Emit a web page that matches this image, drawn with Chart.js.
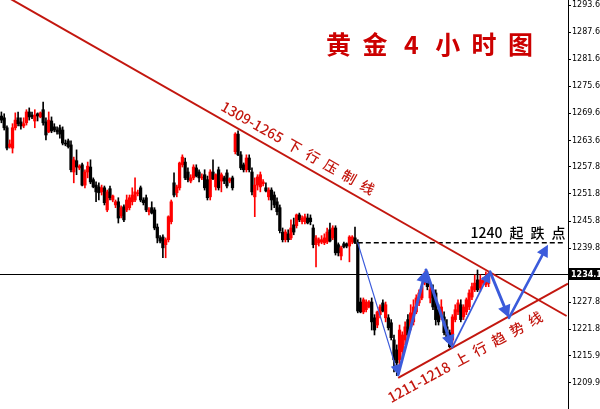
<!DOCTYPE html>
<html>
<head>
<meta charset="utf-8">
<script src="https://cdn.jsdelivr.net/npm/chart.js@4.4.1/dist/chart.umd.min.js"></script>
<style>
html, body { margin: 0; padding: 0; background: #fff; }
#wrap { width: 600px; height: 409px; position: relative; }
</style>
</head>
<body>
<div id="wrap"><canvas id="goldChart"></canvas></div>
<script>
// 4小时K线 (开 / 高 / 低 / 收)
const opens = [
  1269.1,1268.7,1266.5,1262.3,1262.0,1266.5,1268.7,1267.8,1266.9,1267.6,
  1270.0,1269.3,1268.0,1269.6,1268.9,1270.5,1267.8,1265.6,1268.0,1266.7,
  1266.0,1266.5,1266.0,1263.1,1263.6,1262.7,1256.7,1259.2,1257.6,1258.3,
  1253.8,1256.7,1257.8,1255.0,1253.8,
  1253.4,1252.3,1253.2,1248.3,1253.0,1250.5,1249.4,1250.1,1247.0,1249.0,
  1248.3,1248.8,1250.1,1250.5,1251.9,1253.2,1250.5,1251.0,1247.9,1248.8,
  1248.3,1244.5,1242.1,1242.3,1240.6,1241.7,1245.7,1254.3,1252.1,1253.2,
  1258.3,1258.9,1256.7,1254.7,1255.4,
  1257.6,1256.7,1255.4,1256.1,1255.0,1251.2,1256.7,1253.4,1257.2,1254.7,
  1255.4,1256.5,1254.7,1255.4,1261.2,1265.1,1260.5,1258.3,1257.2,1259.8,
  1256.7,1251.2,1253.8,1253.4,1254.1,1253.2,1251.2,1252.7,1251.6,1250.1,
  1248.8,1243.4,1241.7,1243.0,1242.1,1245.0,
  1244.8,1247.2,1245.7,1245.7,1246.5,1246.5,1244.3,1240.6,1241.0,1241.2,
  1241.0,1241.2,1243.9,1242.1,1244.3,1240.6,1238.1,1240.8,1240.8,1240.3,
  1241.2,1242.1,1241.0,1227.9,1225.7,1226.2,1226.8,1227.9,1224.4,1222.8,
  1225.1,1227.7,1224.4,1224.4,1223.3,
  1219.5,1217.3,1215.1,1216.9,1219.5,1224.0,1222.4,1223.5,1225.7,1227.7,
  1228.8,1232.1,1233.5,1228.8,1230.6,1229.9,1226.2,1224.6,1224.6,1222.4,
  1221.1,1219.5,1224.0,1225.7,1227.3,1224.6,1225.7,1226.8,1229.0,1230.6,
  1232.8,1231.0,1232.1,1231.7,1232.0
];
const highs = [
  1270.0,1269.6,1266.9,1263.8,1267.4,1269.8,1270.0,1268.7,1268.7,1270.5,
  1270.9,1270.0,1270.5,1269.8,1270.0,1272.2,1268.7,1270.0,1268.9,1267.4,
  1266.7,1267.1,1266.7,1263.8,1264.0,1263.6,1260.0,1261.6,1258.3,1258.7,
  1257.2,1258.9,1259.4,1255.4,1254.5,
  1254.3,1253.8,1253.6,1252.7,1253.6,1251.6,1250.5,1251.0,1249.2,1249.4,
  1251.6,1251.6,1253.2,1255.4,1252.7,1253.6,1251.0,1251.6,1248.8,1250.1,
  1248.8,1245.2,1242.6,1242.8,1242.1,1247.0,1250.5,1256.5,1253.8,1258.9,
  1260.5,1259.8,1257.6,1256.1,1258.3,
  1258.3,1257.2,1256.3,1257.2,1255.8,1257.2,1259.4,1256.3,1257.8,1256.5,
  1255.8,1257.2,1255.4,1255.8,1265.4,1265.8,1261.2,1258.7,1260.5,1260.5,
  1257.6,1255.4,1256.1,1256.7,1255.0,1254.3,1253.2,1253.2,1252.3,1251.0,
  1249.4,1244.3,1243.9,1243.9,1246.1,1246.5,
  1247.4,1247.6,1247.0,1247.4,1247.4,1247.2,1245.0,1242.6,1242.1,1242.6,
  1243.0,1244.3,1245.4,1244.8,1244.8,1241.0,1240.3,1241.2,1241.0,1242.6,
  1242.6,1244.5,1241.7,1228.8,1228.8,1228.4,1228.2,1228.8,1225.1,1225.9,
  1227.3,1228.4,1227.9,1225.1,1224.0,
  1220.6,1218.4,1222.8,1221.3,1223.5,1225.1,1227.3,1228.4,1229.5,1230.6,
  1232.1,1234.6,1234.6,1232.4,1231.7,1230.6,1227.3,1228.4,1225.7,1224.0,
  1221.7,1225.1,1227.3,1228.4,1228.4,1227.3,1228.8,1230.6,1232.1,1233.9,
  1235.0,1233.9,1233.3,1234.6,1234.6
];
const lows = [
  1267.6,1266.0,1261.6,1262.0,1260.9,1266.0,1266.9,1266.2,1266.5,1267.1,
  1268.2,1268.5,1266.5,1268.0,1268.7,1267.1,1263.8,1265.4,1265.4,1265.6,
  1265.1,1264.2,1262.7,1262.5,1262.0,1256.7,1254.3,1256.1,1257.2,1253.6,
  1253.2,1255.4,1254.1,1253.2,1250.1,
  1250.5,1251.6,1249.4,1247.9,1250.5,1250.1,1248.8,1245.4,1246.5,1245.7,
  1247.9,1248.3,1249.4,1250.1,1251.4,1250.1,1249.4,1247.9,1247.2,1247.4,
  1243.9,1241.0,1241.0,1237.7,1237.7,1241.2,1245.2,1251.2,1251.2,1252.7,
  1257.8,1255.0,1254.5,1254.3,1255.0,
  1255.6,1254.5,1255.0,1252.7,1250.5,1250.5,1255.0,1252.7,1252.7,1252.3,
  1254.1,1253.2,1254.3,1252.7,1260.7,1260.3,1257.2,1256.7,1256.7,1256.7,
  1251.6,1246.8,1252.7,1252.3,1253.6,1252.3,1250.5,1248.3,1248.8,1247.2,
  1243.2,1241.2,1241.2,1241.2,1241.7,1242.8,
  1244.3,1245.7,1245.2,1245.2,1245.2,1245.0,1239.9,1235.7,1240.3,1240.8,
  1240.6,1240.8,1241.2,1241.7,1238.3,1238.1,1237.2,1239.9,1239.9,1236.8,
  1240.8,1240.8,1225.5,1225.5,1225.3,1225.7,1226.6,1221.7,1220.6,1222.2,
  1224.4,1225.7,1223.5,1221.7,1219.5,
  1212.4,1211.6,1212.9,1215.5,1218.4,1220.0,1221.7,1222.8,1225.3,1227.1,
  1228.4,1231.7,1230.6,1227.7,1226.2,1222.8,1222.8,1224.0,1220.6,1219.1,
  1217.8,1218.4,1223.5,1225.1,1223.5,1224.0,1225.1,1226.2,1228.4,1230.2,
  1230.2,1230.2,1231.7,1231.3,1231.3
];
const closes = [
  1268.2,1266.5,1262.0,1262.9,1266.5,1268.2,1267.4,1266.9,1267.4,1270.0,
  1268.9,1268.9,1269.3,1269.1,1269.8,1267.6,1264.9,1268.2,1265.8,1266.0,
  1265.6,1265.1,1263.1,1262.9,1262.3,1257.2,1259.4,1257.8,1258.0,1253.8,
  1256.7,1258.0,1254.5,1253.4,1252.3,
  1252.1,1253.2,1249.9,1252.3,1251.0,1251.4,1250.1,1246.5,1248.8,1246.1,
  1250.5,1251.0,1251.6,1252.3,1252.1,1250.5,1249.9,1248.3,1248.3,1247.6,
  1244.3,1242.1,1241.4,1239.9,1241.7,1246.8,1250.1,1251.6,1253.4,1258.7,
  1260.0,1255.4,1255.0,1255.4,1257.8,
  1255.8,1255.4,1255.6,1253.2,1251.0,1256.7,1255.2,1256.1,1253.2,1256.1,
  1254.7,1253.6,1255.2,1253.2,1265.1,1260.5,1257.6,1257.2,1259.8,1257.2,
  1252.3,1253.8,1255.6,1256.1,1254.5,1252.5,1252.7,1250.5,1249.4,1247.9,
  1243.7,1241.7,1243.4,1241.7,1244.3,1243.4,
  1247.2,1246.1,1246.5,1246.8,1245.4,1245.7,1240.6,1242.1,1241.7,1241.7,
  1242.1,1243.4,1241.4,1244.3,1238.8,1238.8,1239.9,1240.1,1240.3,1242.3,
  1242.3,1241.0,1225.9,1225.7,1228.4,1227.9,1227.9,1223.5,1221.7,1225.7,
  1226.8,1225.9,1227.3,1222.2,1220.0,
  1215.1,1214.4,1221.7,1220.6,1222.4,1220.6,1225.5,1226.8,1228.8,1229.9,
  1231.3,1234.1,1231.3,1230.6,1226.8,1224.0,1223.5,1226.8,1221.1,1219.5,
  1218.0,1224.6,1226.2,1227.7,1224.0,1226.8,1228.4,1229.9,1231.3,1232.1,
  1230.6,1232.8,1232.8,1233.5,1234.2
];

const slotCount = 204;   // 图表右侧留白的K线位
const yTicks = [1293.69, 1287.69, 1281.69, 1275.69, 1269.69, 1263.69, 1257.84,
  1251.84, 1245.84, 1239.84, 1227.84, 1221.84, 1215.99, 1209.99];
const lastPrice = 1234.19;
const breakPrice = 1241.0;
const breakFrom = 128, breakTo = 201.7;

// 趋势线 (K线序号, 价格)
const downIdx = [0, 203];
const downPrice = [1296.2, 1224.8];
const upIdx = [142.5, 203.5];
const upPrice = [1211.1, 1232.0];

// 蓝色走势箭头
const arrowIdx = [128, 142.5, 152.5, 161.9, 175.5, 182.3, 196.3];
const arrowPrice = [1241.0, 1211.8, 1235.0, 1217.8, 1234.6, 1224.4, 1240.6];

const labels = Array.from({ length: slotCount }, (_, i) => String(i));
const candleColor = opens.map((o, i) => closes[i] >= o ? '#ff0000' : '#000000');

const RED = '#c3170f';
const BLUE = '#3b5bdb';
const CJK = '"Noto Sans CJK SC", "Noto Sans", sans-serif';
const SP = '\u2002';

const annotations = {
  id: 'annotations',
  beforeDatasetsDraw(chart) {
    const { ctx, chartArea: a, scales: { y } } = chart;
    const py = Math.round(y.getPixelForValue(lastPrice)) + 0.5;
    ctx.save();
    ctx.strokeStyle = '#000';
    ctx.lineWidth = 1;
    ctx.beginPath();
    ctx.moveTo(a.left, py);
    ctx.lineTo(a.right, py);
    ctx.stroke();
    ctx.restore();
  },
  afterDatasetsDraw(chart) {
    const { ctx, chartArea: a, scales: { x, y } } = chart;
    ctx.save();
    ctx.beginPath();
    ctx.rect(a.left, a.top, a.right - a.left, a.bottom - a.top);
    ctx.clip();

    // 1240 起跌点 虚线
    ctx.strokeStyle = '#000';
    ctx.lineWidth = 1.5;
    ctx.setLineDash([5, 3]);
    const by = y.getPixelForValue(breakPrice);
    ctx.beginPath();
    ctx.moveTo(x.getPixelForValue(breakFrom), by);
    ctx.lineTo(x.getPixelForValue(breakTo), by);
    ctx.stroke();
    ctx.setLineDash([]);

    // 趋势线
    ctx.strokeStyle = RED;
    ctx.lineWidth = 2;
    [[downIdx, downPrice], [upIdx, upPrice]].forEach(([xi, yp]) => {
      ctx.beginPath();
      ctx.moveTo(x.getPixelForValue(xi[0]), y.getPixelForValue(yp[0]));
      ctx.lineTo(x.getPixelForValue(xi[1]), y.getPixelForValue(yp[1]));
      ctx.stroke();
    });

    // 箭头
    const widths = [1.2, 3, 3, 1.8, 3, 2.6];
    ctx.strokeStyle = BLUE;
    ctx.fillStyle = BLUE;
    ctx.lineCap = 'round';
    for (let i = 0; i < arrowIdx.length - 1; i++) {
      const x0 = x.getPixelForValue(arrowIdx[i]), y0 = y.getPixelForValue(arrowPrice[i]);
      const x1 = x.getPixelForValue(arrowIdx[i + 1]), y1 = y.getPixelForValue(arrowPrice[i + 1]);
      const w = widths[i];
      const ang = Math.atan2(y1 - y0, x1 - x0);
      const head = 8 + w * 1.5, hw = 3.5 + w;
      const bx = x1 - head * Math.cos(ang), by2 = y1 - head * Math.sin(ang);
      ctx.lineWidth = w;
      ctx.beginPath();
      ctx.moveTo(x0, y0);
      ctx.lineTo(bx, by2);
      ctx.stroke();
      ctx.beginPath();
      ctx.moveTo(x1, y1);
      ctx.lineTo(bx + hw * Math.sin(ang), by2 - hw * Math.cos(ang));
      ctx.lineTo(bx - hw * Math.sin(ang), by2 + hw * Math.cos(ang));
      ctx.closePath();
      ctx.fill();
    }

    // 文字
    ctx.fillStyle = '#cc0000';
    ctx.font = 'bold 25px ' + CJK;
    ctx.textAlign = 'center';
    ctx.textBaseline = 'middle';
    ['黄', '金', '4', '小', '时', '图'].forEach((c, i) => ctx.fillText(c, 338.5 + i * 36.4, 44));

    ctx.fillStyle = '#000';
    ctx.font = '500 14px ' + CJK;
    ctx.fillText(['1240', '起', '跌', '点'].join(SP), 518, 233);

    ctx.fillStyle = RED;
    ctx.font = '500 14px ' + CJK;
    ctx.save();
    ctx.translate(298, 148);
    ctx.rotate(29.5 * Math.PI / 180);
    ctx.fillText('1309-1265' + SP + ['下', '行', '压', '制', '线'].join(SP), 0, 0);
    ctx.restore();
    ctx.save();
    ctx.translate(465, 357);
    ctx.rotate(-28.5 * Math.PI / 180);
    ctx.fillText('1211-1218' + SP + ['上', '行', '趋', '势', '线'].join(SP), 0, 0);
    ctx.restore();
    ctx.restore();

    // 当前价标签
    const py = Math.round(y.getPixelForValue(lastPrice));
    ctx.save();
    ctx.fillStyle = '#000';
    ctx.fillRect(a.right + 1, py - 6, 40, 12);
    ctx.fillStyle = '#fff';
    ctx.font = 'bold 8px "DejaVu Sans"';
    ctx.textBaseline = 'middle';
    ctx.fillText(lastPrice.toFixed(2), a.right + 3, py + 0.5);
    ctx.restore();
  }
};

const ctx = document.getElementById('goldChart').getContext('2d');
new Chart(ctx, {
  type: 'bar',
  data: {
    labels: labels,
    datasets: [{
      data: lows.map((l, i) => [l, highs[i]]),
      backgroundColor: candleColor,
      barThickness: 1,
      grouped: false,
      borderWidth: 0
    }, {
      data: opens.map((o, i) => [o, closes[i]]),
      backgroundColor: candleColor,
      barThickness: 2.6,
      grouped: false,
      borderWidth: 0
    }]
  },
  options: {
    responsive: true,
    maintainAspectRatio: false,
    animation: false,
    events: [],
    layout: { padding: 0 },
    plugins: { legend: { display: false }, tooltip: { enabled: false } },
    scales: {
      x: { display: false, offset: true },
      y: {
        position: 'right',
        min: 1204.2,
        max: 1294.8,
        afterBuildTicks: s => { s.ticks = yTicks.map(v => ({ value: v })); },
        afterFit: s => { s.width = 32; s.paddingTop = 0; s.paddingBottom = 0; },
        border: { color: '#000', width: 1 },
        grid: { drawOnChartArea: false, drawTicks: true, tickLength: 3, color: '#000' },
        ticks: {
          color: '#000',
          padding: 1,
          font: { family: 'DejaVu Sans', size: 8 },
          callback: v => v.toFixed(2)
        }
      }
    }
  },
  plugins: [annotations]
});
</script>
</body>
</html>
